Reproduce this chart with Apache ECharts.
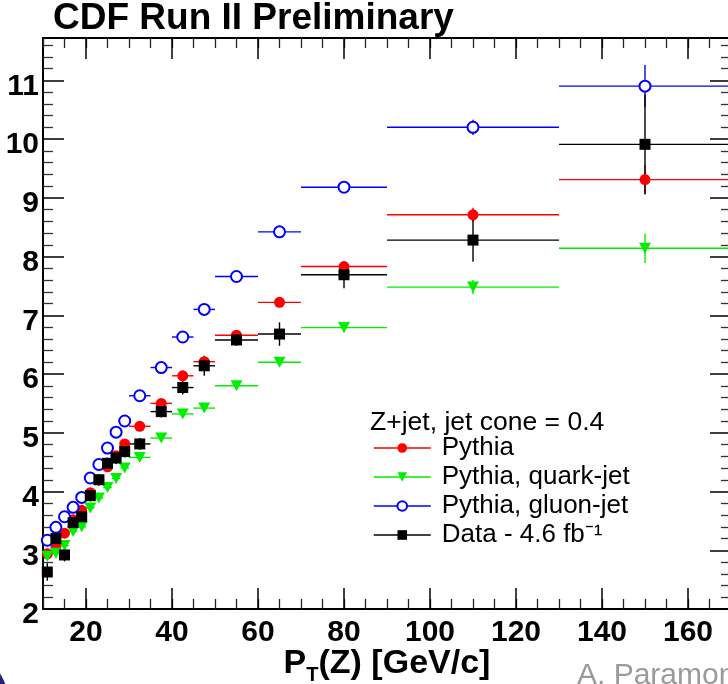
<!DOCTYPE html>
<html>
<head>
<meta charset="utf-8">
<script src="https://cdn.jsdelivr.net/npm/echarts@6/dist/echarts.min.js"></script>
<style>
html,body{margin:0;padding:0;background:#fff;}
#chart{width:728px;height:684px;}
</style>
</head>
<body>
<div id="chart"></div>
<script>
// ---- data ----
const xCenter = [11, 13, 15, 17, 19, 21, 23, 25, 27, 29, 32.5, 37.5, 42.5, 47.5, 55, 65, 80, 110, 150];
const xLow    = [10, 12, 14, 16, 18, 20, 22, 24, 26, 28, 30, 35, 40, 45, 50, 60, 70, 90, 130];
const xHigh   = [12, 14, 16, 18, 20, 22, 24, 26, 28, 30, 35, 40, 45, 50, 60, 70, 90, 130, 170];

const pythia    = [2.94, 3.08, 3.29, 3.52, 3.68, 3.98, 4.20, 4.42, 4.61, 4.81, 5.11, 5.50, 5.97, 6.21, 6.66, 7.22, 7.83, 8.71, 9.31];
const pythiaErr = [0.04, 0.04, 0.04, 0.04, 0.04, 0.04, 0.04, 0.04, 0.04, 0.04, 0.04, 0.05, 0.05, 0.06, 0.06, 0.07, 0.08, 0.12, 0.25];

const quark     = [2.90, 2.95, 3.08, 3.32, 3.40, 3.72, 3.89, 4.07, 4.22, 4.40, 4.58, 4.91, 5.32, 5.42, 5.80, 6.20, 6.79, 7.48, 8.14];
const quarkErr  = [0.04, 0.04, 0.04, 0.04, 0.04, 0.04, 0.04, 0.04, 0.04, 0.04, 0.04, 0.05, 0.05, 0.06, 0.06, 0.07, 0.08, 0.12, 0.25];

const gluon     = [3.17, 3.39, 3.57, 3.73, 3.90, 4.23, 4.46, 4.74, 5.01, 5.20, 5.63, 6.11, 6.63, 7.10, 7.66, 8.42, 9.18, 10.20, 10.90];
const gluonErr  = [0.04, 0.04, 0.04, 0.04, 0.04, 0.04, 0.04, 0.04, 0.04, 0.04, 0.05, 0.05, 0.05, 0.06, 0.06, 0.07, 0.08, 0.13, 0.36];

const cdfData   = [2.63, 3.20, 2.92, 3.47, 3.57, 3.93, 4.20, 4.48, 4.57, 4.68, 4.81, 5.36, 5.77, 6.14, 6.58, 6.68, 7.69, 8.28, 9.91];
const cdfErr    = [0.15, 0.12, 0.11, 0.11, 0.11, 0.10, 0.10, 0.10, 0.10, 0.10, 0.10, 0.10, 0.12, 0.17, 0.10, 0.20, 0.23, 0.37, 0.85];

const seriesNames = ['Pythia', 'Pythia, quark-jet', 'Pythia, gluon-jet', 'Data - 4.6 fb\u207B\u00B9'];
const xMajorTicks = [20, 40, 60, 80, 100, 120, 140, 160];

// ---- axis extents ----
const X_MIN = 10, X_MAX = 170, Y_MIN = 2, Y_MAX = 11.72;
const FONT = '"Liberation Sans", Arial, Helvetica, sans-serif';

function errSeries(vals, errs, color) {
  return {
    type: 'custom',
    silent: true,
    data: xCenter.map((x, i) => [xLow[i], xHigh[i], x, vals[i], errs[i]]),
    encode: { x: [0, 1, 2], y: 3 },
    renderItem: function (params, api) {
      const y = api.value(3), e = api.value(4);
      const lo = api.coord([api.value(0), y]);
      const hi = api.coord([api.value(1), y]);
      const top = api.coord([api.value(2), y + e]);
      const bot = api.coord([api.value(2), y - e]);
      return {
        type: 'group',
        children: [
          { type: 'line', shape: { x1: lo[0], y1: lo[1], x2: hi[0], y2: hi[1] }, style: { stroke: color, lineWidth: 1.4 } },
          { type: 'line', shape: { x1: top[0], y1: top[1], x2: bot[0], y2: bot[1] }, style: { stroke: color, lineWidth: 1.4 } }
        ]
      };
    }
  };
}

function markerSeries(name, vals, color, symbol, extra) {
  return Object.assign({
    name: name,
    type: 'line',
    silent: true,
    data: xCenter.map((x, i) => [x, vals[i]]),
    symbol: symbol,
    symbolSize: 11,
    showSymbol: true,
    showAllSymbol: true,
    lineStyle: { width: 0, opacity: 0 },
    itemStyle: { color: color },
    emphasis: { disabled: true }
  }, extra || {});
}

const chart = echarts.init(document.getElementById('chart'), null, { renderer: 'canvas' });

const axisLineStyle = { color: '#000', width: 2 };

const option = {
  animation: false,
  backgroundColor: '#fff',
  grid: { left: 43, right: -3, top: 38, bottom: 75, containLabel: false, outerBoundsMode: 'none' },
  xAxis: [
    {
      type: 'value', position: 'bottom', min: X_MIN, max: X_MAX, interval: 5,
      axisLine: { show: true, onZero: false, lineStyle: axisLineStyle },
      axisTick: { show: true, inside: true, length: 10, lineStyle: { color: '#222', width: 1.3 } },
      axisLabel: {
        show: true, margin: 9, color: '#000', fontSize: 30, fontWeight: 'bold', fontFamily: FONT,
        formatter: function (v) { return xMajorTicks.indexOf(v) >= 0 ? String(v) : ''; }
      },
      splitLine: { show: false },
      name: '{a|P}{b|T}{a|(Z) [GeV/c]}',
      nameLocation: 'middle',
      nameGap: 34,
      nameMoveOverlap: false,
      nameTextStyle: {
        rich: {
          a: { fontSize: 34, fontWeight: 'bold', fontFamily: FONT, color: '#000', lineHeight: 42 },
          b: { fontSize: 20, fontWeight: 'bold', fontFamily: FONT, color: '#000', lineHeight: 20, verticalAlign: 'bottom' }
        }
      }
    },
    {
      type: 'value', position: 'top', min: X_MIN, max: X_MAX, interval: 5,
      axisLine: { show: true, onZero: false, lineStyle: axisLineStyle },
      axisTick: { show: true, inside: true, length: 10, lineStyle: { color: '#222', width: 1.3 } },
      axisLabel: { show: false },
      splitLine: { show: false }
    }
  ],
  yAxis: [
    {
      type: 'value', position: 'left', min: Y_MIN, max: Y_MAX, interval: 1,
      axisLine: { show: true, onZero: false, lineStyle: axisLineStyle },
      axisTick: { show: true, inside: true, length: 21, lineStyle: { color: '#000', width: 1.5 } },
      minorTick: { show: true, splitNumber: 5, length: 10, lineStyle: { color: '#333', width: 1.3 } },
      axisLabel: {
        show: true, margin: 4, color: '#000', fontSize: 30, fontWeight: 'bold', fontFamily: FONT,
        verticalAlign: 'top', lineHeight: 12,
        formatter: function (v) { return Math.abs(v - Math.round(v)) < 1e-6 ? String(Math.round(v)) : ''; }
      },
      splitLine: { show: false }
    },
    {
      type: 'value', position: 'right', min: Y_MIN, max: Y_MAX, interval: 1,
      axisLine: { show: true, onZero: false, lineStyle: axisLineStyle },
      axisTick: { show: true, inside: true, length: 21, lineStyle: { color: '#000', width: 1.5 } },
      minorTick: { show: true, splitNumber: 5, length: 10, lineStyle: { color: '#333', width: 1.3 } },
      axisLabel: { show: false },
      splitLine: { show: false }
    }
  ],
  legend: {
    orient: 'vertical',
    left: 368,
    top: 430,
    itemWidth: 57,
    itemHeight: 12,
    itemGap: 3,
    selectedMode: false,
    textStyle: { fontSize: 26, fontFamily: FONT, color: '#000', padding: [0, 0, 0, 6], lineHeight: 26 },
    data: [
      { name: seriesNames[0], lineStyle: { width: 1.5, opacity: 1, color: '#ff0000' } },
      { name: seriesNames[1], lineStyle: { width: 1.5, opacity: 1, color: '#00ee00' } },
      { name: seriesNames[2], lineStyle: { width: 1.5, opacity: 1, color: '#0000ff' } },
      { name: seriesNames[3], lineStyle: { width: 1.5, opacity: 1, color: '#000000' } }
    ]
  },
  graphic: [
    { type: 'text', left: 53, top: 0, style: { text: 'CDF Run II Preliminary', fill: '#000', font: 'bold 37px ' + FONT } },
    { type: 'text', left: 370, top: 409, style: { text: 'Z+jet, jet cone = 0.4', fill: '#000', font: '26.5px ' + FONT } },
    { type: 'text', left: 577, top: 661, style: { text: 'A. Paramonov', fill: '#9a9a9a', font: '30px ' + FONT } },
    { type: 'circle', shape: { cx: -40, cy: 700, r: 48 }, style: { fill: '#232377' } }
  ],
  series: [
    {
      type: 'custom', silent: true, xAxisIndex: 0, yAxisIndex: 0,
      data: xMajorTicks.map(v => [v]),
      encode: { x: 0 },
      renderItem: function (params, api) {
        const v = api.value(0);
        const b = api.coord([v, Y_MIN]);
        const t = api.coord([v, Y_MAX]);
        return {
          type: 'group',
          children: [
            { type: 'line', shape: { x1: b[0], y1: b[1], x2: b[0], y2: b[1] - 21 }, style: { stroke: '#000', lineWidth: 1.5 } },
            { type: 'line', shape: { x1: t[0], y1: t[1], x2: t[0], y2: t[1] + 21 }, style: { stroke: '#000', lineWidth: 1.5 } }
          ]
        };
      }
    },
    errSeries(pythia, pythiaErr, '#ff0000'),
    markerSeries(seriesNames[0], pythia, '#ff0000', 'circle'),
    errSeries(quark, quarkErr, '#00ee00'),
    markerSeries(seriesNames[1], quark, '#00ee00', 'triangle', { symbolRotate: 180, symbolSize: [12, 11] }),
    errSeries(gluon, gluonErr, '#0000ff'),
    markerSeries(seriesNames[2], gluon, '#0000ff', 'emptyCircle', { itemStyle: { color: '#0000ff', borderWidth: 1.5 } }),
    errSeries(cdfData, cdfErr, '#000000'),
    markerSeries(seriesNames[3], cdfData, '#000000', 'rect')
  ]
};

chart.setOption(option);
</script>
</body>
</html>
